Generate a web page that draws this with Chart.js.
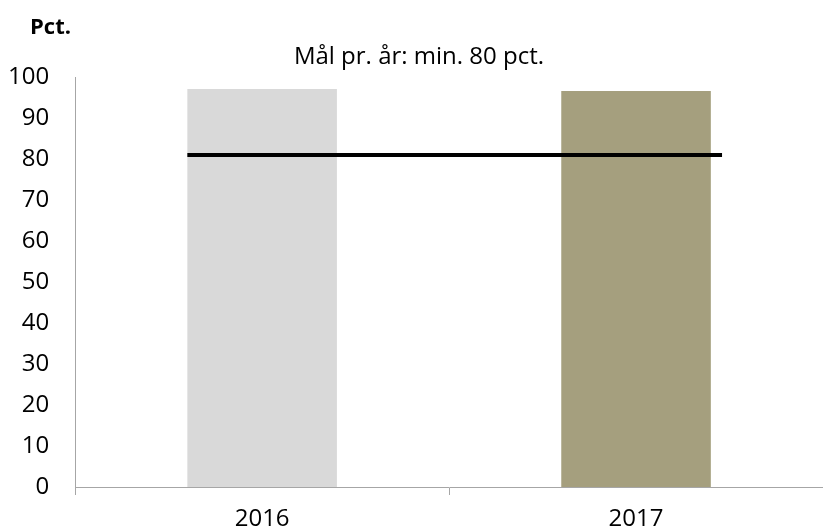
<!DOCTYPE html>
<html>
<head>
<meta charset="utf-8">
<script src="https://cdn.jsdelivr.net/npm/chart.js@4"></script>
<style>
  body { margin: 0; background: #fff; }
  #wrap { width: 823px; height: 532px; }
</style>
</head>
<body>
<div id="wrap"><canvas id="bar-chart" width="823" height="532"></canvas></div>
<script>
// data
var years = ["2016", "2017"];
var values = [97.1, 96.6];
var goalX = [-0.2, 1.23];   // in category units, from left edge of first bar to past second bar
var goalY = [81, 81];
var yTicks = [0, 10, 20, 30, 40, 50, 60, 70, 80, 90, 100];
var xTicks = [-0.5, 0, 0.5, 1, 1.5];  // integers carry the year labels, halves the tick marks

var FONT = "'Open Sans', Lato, sans-serif";

// texts over the plot
const textPlugin = {
    id: 'texts',
    afterDraw(chart) {
        var ctx = chart.ctx;
        ctx.save();
        ctx.fillStyle = "#000";
        ctx.textBaseline = "alphabetic";
        ctx.font = "bold 22px " + FONT;
        ctx.textAlign = "left";
        ctx.fillText("Pct.", 30, 34);
        ctx.font = "24px " + FONT;
        ctx.textAlign = "center";
        ctx.fillText("Mål pr. år: min. 80 pct.", 419, 64);
        ctx.restore();
    }
};

var barData = values.map(function (v, i) { return { x: i, y: v }; });
var goalData = goalX.map(function (x, i) { return { x: x, y: goalY[i] }; });

const config = {
    type: 'bar',
    data: {
        datasets: [
            {
                type: 'line',
                data: goalData,
                borderColor: "#000",
                borderWidth: 4,
                pointRadius: 0,
                order: 0
            },
            {
                type: 'bar',
                data: barData,
                backgroundColor: ["#d9d9d9", "#a59f7e"],
                // ruler uses the half-step tick spacing, so 0.8 here = 40% of a year slot
                barPercentage: 0.8,
                categoryPercentage: 1,
                grouped: false,
                order: 1
            }
        ]
    },
    options: {
        responsive: false,
        animation: false,
        layout: { padding: { top: 77, right: 0, left: -18, bottom: -11 } },
        plugins: {
            legend: { display: false },
            tooltip: { enabled: false }
        },
        scales: {
            x: {
                type: 'linear',
                min: -0.5,
                max: 1.5,
                offset: false,
                afterBuildTicks: function (axis) {
                    axis.ticks = xTicks.map(function (v) { return { value: v }; });
                },
                afterFit: function (axis) {
                    axis.paddingRight = 0;   // axis runs to the right edge
                },
                grid: {
                    offset: false,
                    drawOnChartArea: false,
                    drawTicks: true,
                    tickLength: 8,
                    color: function (c) {
                        return c.tick && Number.isInteger(c.tick.value) ? "rgba(0,0,0,0)" : "#a6a6a6";
                    }
                },
                border: { color: "#a6a6a6", width: 1 },
                ticks: {
                    color: "#000",
                    font: { family: FONT, size: 24, lineHeight: 1 },
                    padding: 12,
                    maxRotation: 0,
                    autoSkip: false,
                    callback: function (v) {
                        return Number.isInteger(v) ? years[v] : "";
                    }
                }
            },
            y: {
                min: 0,
                max: 100,
                afterBuildTicks: function (axis) {
                    axis.ticks = yTicks.map(function (v) { return { value: v }; });
                },
                grid: { display: false, drawTicks: false },
                border: { color: "#a6a6a6", width: 1 },
                ticks: { color: "#000", font: { family: FONT, size: 24 }, padding: 26 }
            }
        }
    },
    plugins: [textPlugin]
};

const myChart = new Chart(document.getElementById('bar-chart'), config);
</script>
</body>
</html>
